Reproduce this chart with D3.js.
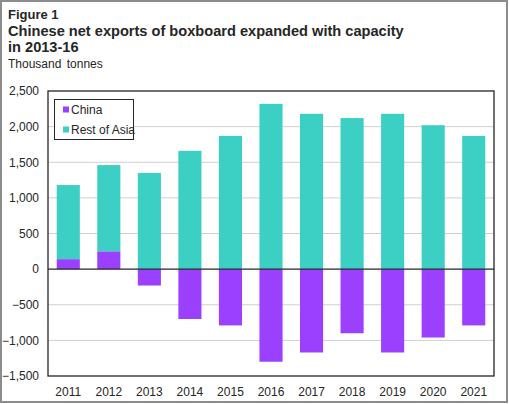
<!DOCTYPE html>
<html><head><meta charset="utf-8">
<script src="https://cdn.jsdelivr.net/npm/d3@7"></script>
<style>
html,body{margin:0;padding:0;background:#fff;}
svg{display:block;font-family:"Liberation Sans",Arial,sans-serif;}
</style></head>
<body>
<svg id="chart" width="509" height="404"></svg>
<script>
const years = ["2011","2012","2013","2014","2015","2016","2017","2018","2019","2020","2021"];
const china = [140, 250, -230, -700, -790, -1300, -1170, -900, -1170, -960, -790];
const restOfAsia = [1040, 1210, 1350, 1660, 1870, 2320, 2180, 2120, 2180, 2020, 1870];
const yTicks = [-1500, -1000, -500, 0, 500, 1000, 1500, 2000, 2500];
const seriesNames = ["China", "Rest of Asia"];
const colors = ["#9b40ff", "#3ccfc4"];

const svg = d3.select("#chart");
const W = 509, H = 404;
// outer border
svg.append("rect").attr("x",1).attr("y",1).attr("width",W-3).attr("height",H-3)
  .attr("fill","none").attr("stroke","#8c8c8c").attr("stroke-width",2);

// titles
svg.append("text").attr("x",8).attr("y",19).attr("font-size",13).attr("font-weight","bold").attr("fill","#262626").text("Figure 1");
svg.append("text").attr("x",8).attr("y",35.5).attr("font-size",14.6).attr("font-weight","bold").attr("fill","#262626").text("Chinese net exports of boxboard expanded with capacity");
svg.append("text").attr("x",8).attr("y",52).attr("font-size",14.6).attr("font-weight","bold").attr("fill","#262626").text("in 2013-16");
svg.append("text").attr("x",8).attr("y",67.5).attr("font-size",12).attr("fill","#262626").attr("word-spacing",2).text("Thousand  tonnes");

const L = 48, R = 494, T = 91, B = 376;
const x = d3.scaleBand().domain(years).range([L, R]).paddingInner(0.43).paddingOuter(0.215);
const y = d3.scaleLinear().domain([-1500, 2500]).range([B, T]);

// gridlines
svg.append("g").selectAll("line").data(yTicks.filter(d => d !== 0 && d !== 2500 && d !== -1500)).join("line")
  .attr("x1", L).attr("x2", R).attr("y1", d => y(d)).attr("y2", d => y(d))
  .attr("stroke", "#d0d0d0").attr("stroke-width", 1);

// bars
const data = years.map((yr, i) => ({yr, c: china[i], r: restOfAsia[i]}));
const g = svg.append("g");
data.forEach(d => {
  // China
  const c0 = 0, c1 = d.c;
  g.append("rect").attr("x", x(d.yr)).attr("width", x.bandwidth())
    .attr("y", y(Math.max(c0, c1))).attr("height", Math.abs(y(c0) - y(c1)))
    .attr("fill", colors[0]);
  const base = d.c > 0 ? d.c : 0;
  g.append("rect").attr("x", x(d.yr)).attr("width", x.bandwidth())
    .attr("y", y(base + d.r)).attr("height", y(base) - y(base + d.r))
    .attr("fill", colors[1]);
});

// zero line
svg.append("line").attr("x1", L).attr("x2", R).attr("y1", y(0)).attr("y2", y(0))
  .attr("stroke", "#262626").attr("stroke-width", 1.3);

// plot frame
svg.append("rect").attr("x", L).attr("y", T).attr("width", R - L).attr("height", B - T)
  .attr("fill", "none").attr("stroke", "#262626").attr("stroke-width", 1.3);

// y axis labels
const yAxis = d3.axisLeft(y).tickValues(yTicks).tickSize(0).tickPadding(9)
  .tickFormat(d3.format(","));
const ya = svg.append("g").attr("transform", `translate(${L},0)`).call(yAxis);
ya.select(".domain").remove();
ya.selectAll("text").attr("font-size", 12).attr("fill", "#262626").attr("font-family", "Liberation Sans, Arial, sans-serif");

// x axis labels
const xAxis = d3.axisBottom(x).tickSize(0).tickPadding(11);
const xa = svg.append("g").attr("transform", `translate(0,${B})`).call(xAxis);
xa.select(".domain").remove();
xa.selectAll("text").attr("font-size", 12).attr("fill", "#262626").attr("font-family", "Liberation Sans, Arial, sans-serif");

// legend
const lg = svg.append("g");
lg.append("rect").attr("x", 54.5).attr("y", 99.5).attr("width", 79).attr("height", 40)
  .attr("fill", "#fff").attr("stroke", "#262626").attr("stroke-width", 1);
seriesNames.forEach((n, i) => {
  const yy = 109.5 + i * 20;
  lg.append("rect").attr("x", 63).attr("y", yy - 3).attr("width", 6).attr("height", 6).attr("fill", colors[i]);
  lg.append("text").attr("x", 71).attr("y", yy + 4.3).attr("font-size", 12).attr("fill", "#262626").text(n);
});
</script>
</body></html>
